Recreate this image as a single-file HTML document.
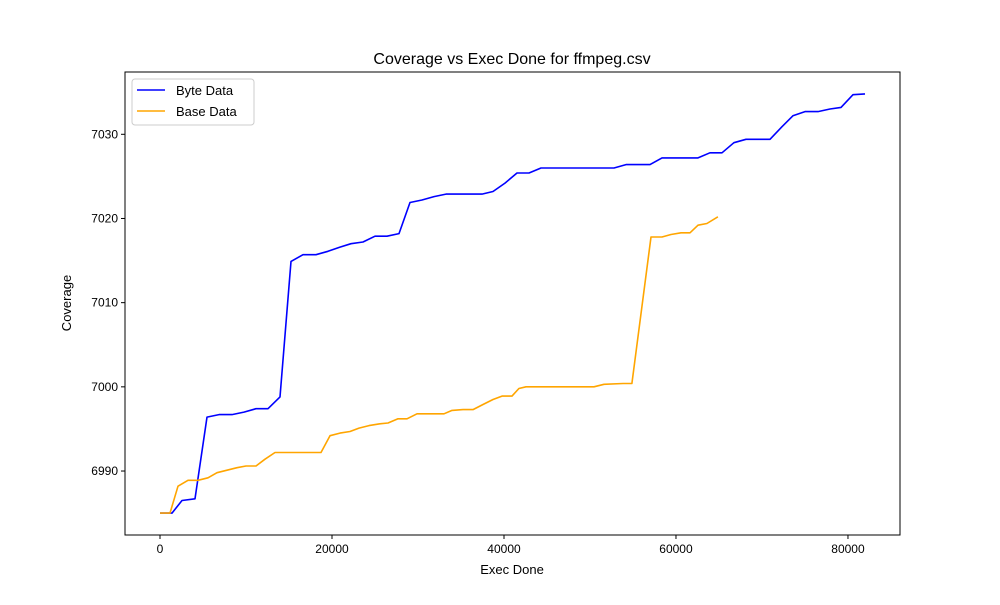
<!DOCTYPE html>
<html><head><meta charset="utf-8"><style>
body{margin:0;background:#fff}
svg{font-family:"Liberation Sans","DejaVu Sans",sans-serif}
</style></head><body>
<svg id="chart" width="1000" height="600" xmlns="http://www.w3.org/2000/svg"></svg>
<script>
const xTicks=[0,20000,40000,60000,80000];
const yTicks=[6990,7000,7010,7020,7030];
const byteX=[0,1400,2560,4070,5470,6860,8370,9770,11160,12560,13950,15230,16630,18140,19530,20930,22210,23600,25000,26400,27790,29070,30470,31860,33260,34650,36050,37440,38720,40120,41510,42910,44300,52790,54190,56980,58370,62560,63950,65350,66740,68140,70930,72330,73600,75000,76510,77910,79190,80580,81980];
const byteY=[6985,6985,6986.5,6986.7,6996.4,6996.7,6996.7,6997,6997.4,6997.4,6998.8,7014.9,7015.7,7015.7,7016.1,7016.6,7017,7017.2,7017.9,7017.9,7018.2,7021.9,7022.2,7022.6,7022.9,7022.9,7022.9,7022.9,7023.2,7024.2,7025.4,7025.4,7026,7026,7026.4,7026.4,7027.2,7027.2,7027.8,7027.8,7029,7029.4,7029.4,7030.9,7032.2,7032.7,7032.7,7033,7033.2,7034.7,7034.8];
const baseX=[0,1160,2090,3260,4420,5580,6630,7790,8950,10000,11160,12210,13370,18720,19770,20930,22090,23140,24300,25470,26510,27670,28720,29880,33020,33950,35230,36400,37560,38720,39770,40930,41740,42560,50470,51630,53840,54880,57090,58370,59420,60580,61630,62560,63600,64880];
const baseY=[6985,6985,6988.2,6988.9,6988.9,6989.2,6989.8,6990.1,6990.4,6990.6,6990.6,6991.4,6992.2,6992.2,6994.2,6994.5,6994.7,6995.1,6995.4,6995.6,6995.7,6996.2,6996.2,6996.8,6996.8,6997.2,6997.3,6997.3,6997.9,6998.5,6998.9,6998.9,6999.8,7000,7000,7000.3,7000.4,7000.4,7017.8,7017.8,7018.1,7018.3,7018.3,7019.2,7019.4,7020.2];

const L=125,R=900,T=72,B=535;
const xMin=-4070,xMax=86050,yMin=6982.4,yMax=7037.4;
const sx=v=>L+(v-xMin)/(xMax-xMin)*(R-L);
const sy=v=>B-(v-yMin)/(yMax-yMin)*(B-T);
const svg=document.getElementById('chart');
const NS='http://www.w3.org/2000/svg';
function mk(tag,attrs,text){const e=document.createElementNS(NS,tag);for(const k in attrs)e.setAttribute(k,attrs[k]);if(text!==undefined)e.textContent=text;svg.appendChild(e);return e;}

let e;
e=mk('rect',{x:L,y:T,width:R-L,height:B-T,fill:'none',stroke:'#000','stroke-width':1});



xTicks.forEach(v=>{
  const x=sx(v);
  let t=mk('line',{x1:x,x2:x,y1:B,y2:B+4,stroke:'#000'});
  
  
  let l=mk('text',{x:x,y:B+18,'text-anchor':'middle','font-size':12},String(v));
  
  
});
yTicks.forEach(v=>{
  const y=sy(v);
  let t=mk('line',{x1:L-4,x2:L,y1:y,y2:y,stroke:'#000'});
  
  
  let l=mk('text',{x:L-7,y:y+4,'text-anchor':'end','font-size':12},String(v));
  
  
});

function series(xs,ys,color,name){
  const pts=xs.map((x,i)=>sx(x).toFixed(1)+','+sy(ys[i]).toFixed(1)).join(' ');
  const p=mk('polyline',{points:pts,fill:'none',stroke:color,'stroke-width':1.6,'stroke-linejoin':'round'});
  
  
}
series(byteX,byteY,'#0000ff','byte-data-line');
series(baseX,baseY,'#ffa500','base-data-line');

e=mk('text',{x:512,y:64,'text-anchor':'middle','font-size':16},'Coverage vs Exec Done for ffmpeg.csv');


e=mk('text',{x:512,y:574,'text-anchor':'middle','font-size':13},'Exec Done');


e=mk('text',{x:71,y:303,'text-anchor':'middle','font-size':13,transform:'rotate(-90 71 303)'},'Coverage');



e=mk('rect',{x:132,y:79,width:122,height:46,rx:3,fill:'#fff',stroke:'#ccc'});


e=mk('line',{x1:137,x2:165,y1:90,y2:90,stroke:'#0000ff','stroke-width':1.6});


e=mk('text',{x:176,y:95,'font-size':13},'Byte Data');


e=mk('line',{x1:137,x2:165,y1:111,y2:111,stroke:'#ffa500','stroke-width':1.6});


e=mk('text',{x:176,y:116,'font-size':13},'Base Data');


</script>
</body></html>
